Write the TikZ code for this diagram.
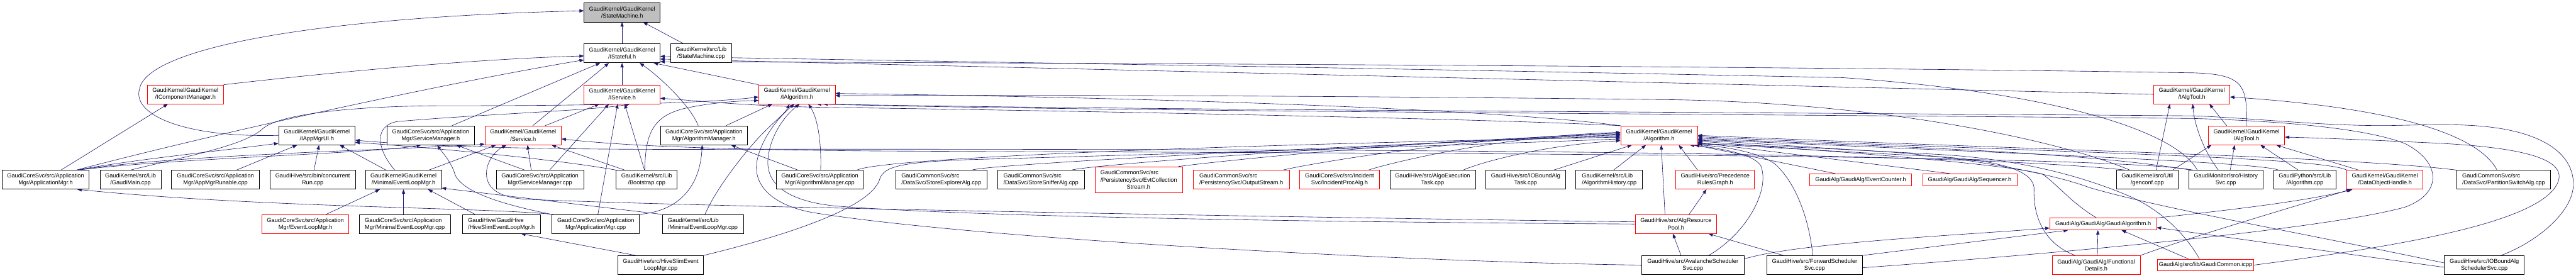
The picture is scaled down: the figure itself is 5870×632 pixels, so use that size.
\documentclass[tikz,border=0pt]{standalone}
\usepackage{fontspec}
\usetikzlibrary{arrows.meta, backgrounds}
\newfontfamily\dxfamily{Liberation Sans}
\definecolor{dxEdge}{RGB}{25,25,112}
\definecolor{dxRed}{RGB}{255,0,0}
\definecolor{dxGray}{RGB}{191,191,191}
\tikzset{
	fnode/.style={rectangle, draw=black, line width=1.1pt, fill=white, minimum height=43pt, inner xsep=3pt, inner ysep=2pt, align=center, font=\dxfamily\fontsize{13.2pt}{16pt}\selectfont},
	rnode/.style={fnode, draw=dxRed},
	lnode/.style={align=left},
	onerow/.style={minimum height=27pt},
	% include edge, arrow at the included file
	incl/.style={draw=dxEdge, line width=0.9pt, -{Triangle[length=10pt,width=7.5pt]}},
}
\begin{document}
\begin{tikzpicture}[x=1pt, y=1pt]
\useasboundingbox (0,0) rectangle (5870,632);
% rows 1-3
\node[fnode, fill=dxGray, minimum width=173pt] (sm) at (1417.5,603.5) {GaudiKernel/GaudiKernel\\/StateMachine.h};
\node[fnode, minimum width=173pt] (istateful) at (1417.5,510.5) {GaudiKernel/GaudiKernel\\/IStateful.h};
\node[fnode, minimum width=139pt] (smcpp) at (1597.5,510.5) {GaudiKernel/src/Lib\\/StateMachine.cpp};
\node[rnode, minimum width=173pt] (icompmgr) at (422.5,417) {GaudiKernel/GaudiKernel\\/IComponentManager.h};
\node[rnode, minimum width=173pt] (iservice) at (1417.5,417) {GaudiKernel/GaudiKernel\\/IService.h};
\node[rnode, minimum width=174pt] (ialg) at (1816,417) {GaudiKernel/GaudiKernel\\/IAlgorithm.h};
\node[rnode, minimum width=173pt] (ialgtool) at (4994.5,417) {GaudiKernel/GaudiKernel\\/IAlgTool.h};
% row 4
\node[fnode, minimum width=174pt] (iappmgrui) at (722,323.5) {GaudiKernel/GaudiKernel\\/IAppMgrUI.h};
\node[fnode, minimum width=199pt] (svcmgrh) at (981.5,323.5) {GaudiCoreSvc/src/Application\\Mgr/ServiceManager.h};
\node[rnode, minimum width=174pt] (serviceh) at (1192,323.5) {GaudiKernel/GaudiKernel\\/Service.h};
\node[fnode, minimum width=198pt] (algmgrh) at (1604,323.5) {GaudiCoreSvc/src/Application\\Mgr/AlgorithmManager.h};
\node[rnode, minimum width=175pt] (algh) at (3780.5,323.5) {GaudiKernel/GaudiKernel\\/Algorithm.h};
\node[rnode, minimum width=174pt] (algtoolh) at (5119,323.5) {GaudiKernel/GaudiKernel\\/AlgTool.h};
% row 5
\node[fnode, minimum width=198pt] (appmgrh) at (104,222.5) {GaudiCoreSvc/src/Application\\Mgr/ApplicationMgr.h};
\node[fnode, minimum width=139pt] (gaudimain) at (297.5,222.5) {GaudiKernel/src/Lib\\/GaudiMain.cpp};
\node[fnode, minimum width=200pt] (appmgrrun) at (491,222.5) {GaudiCoreSvc/src/Application\\Mgr/AppMgrRunable.cpp};
\node[fnode, minimum width=195pt] (concrun) at (712.5,222.5) {GaudiHive/src/bin/concurrent\\Run.cpp};
\node[fnode, minimum width=173pt] (minelmh) at (919.5,222.5) {GaudiKernel/GaudiKernel\\/MinimalEventLoopMgr.h};
\node[fnode, minimum width=199pt] (svcmgrcpp) at (1230.5,222.5) {GaudiCoreSvc/src/Application\\Mgr/ServiceManager.cpp};
\node[fnode, minimum width=139pt] (bootstrap) at (1473.5,222.5) {GaudiKernel/src/Lib\\/Bootstrap.cpp};
\node[fnode, minimum width=198pt] (algmgrcpp) at (1868,222.5) {GaudiCoreSvc/src/Application\\Mgr/AlgorithmManager.cpp};
\node[fnode, lnode, minimum width=208pt] (storeexp) at (2145,222.5) {GaudiCommonSvc/src\\/DataSvc/StoreExplorerAlg.cpp};
\node[fnode, lnode, minimum width=198pt] (storesniff) at (2372,222.5) {GaudiCommonSvc/src\\/DataSvc/StoreSnifferAlg.cpp};
\node[rnode, lnode, minimum width=200pt, minimum height=59pt] (evtcoll) at (2595,222.5) {GaudiCommonSvc/src\\/PersistencySvc/EvtCollection\\\hspace*{60pt}Stream.h};
\node[rnode, lnode, minimum width=219pt] (outstream) at (2828.5,222.5) {GaudiCommonSvc/src\\/PersistencySvc/OutputStream.h};
\node[rnode, minimum width=183pt] (incproc) at (3052.5,222.5) {GaudiCoreSvc/src/Incident\\Svc/IncidentProcAlg.h};
\node[fnode, minimum width=195pt] (algoexec) at (3264.5,222.5) {GaudiHive/src/AlgoExecution\\Task.cpp};
\node[fnode, minimum width=183pt] (ioboundtask) at (3476.5,222.5) {GaudiHive/src/IOBoundAlg\\Task.cpp};
\node[fnode, lnode, minimum width=152pt] (alghist) at (3667,222.5) {GaudiKernel/src/Lib\\/AlgorithmHistory.cpp};
\node[rnode, minimum width=179pt] (precgraph) at (3908.5,222.5) {GaudiHive/src/Precedence\\RulesGraph.h};
\node[rnode, onerow, minimum width=232pt] (evcounter) at (4240,222.5) {GaudiAlg/GaudiAlg/EventCounter.h};
\node[rnode, onerow, minimum width=215pt] (sequencer) at (4488.5,222.5) {GaudiAlg/GaudiAlg/Sequencer.h};
\node[fnode, minimum width=140pt] (genconf) at (4893,222.5) {GaudiKernel/src/Util\\/genconf.cpp};
\node[fnode, minimum width=170pt] (histsvc) at (5072,222.5) {GaudiMonitor/src/History\\Svc.cpp};
\node[fnode, minimum width=142pt] (pyalg) at (5252,222.5) {GaudiPython/src/Lib\\/Algorithm.cpp};
\node[rnode, minimum width=173pt] (dohandle) at (5434.5,222.5) {GaudiKernel/GaudiKernel\\/DataObjectHandle.h};
\node[fnode, lnode, minimum width=214pt] (partsw) at (5705,222.5) {GaudiCommonSvc/src\\/DataSvc/PartitionSwitchAlg.cpp};
% row 6
\node[rnode, minimum width=198pt] (evlmh) at (696,121.5) {GaudiCoreSvc/src/Application\\Mgr/EventLoopMgr.h};
\node[fnode, lnode, minimum width=207pt] (minelmcpp1) at (922.5,121.5) {GaudiCoreSvc/src/Application\\Mgr/MinimalEventLoopMgr.cpp};
\node[fnode, lnode, minimum width=177pt] (hiveslimh) at (1142.5,121.5) {GaudiHive/GaudiHive\\/HiveSlimEventLoopMgr.h};
\node[fnode, minimum width=199pt] (appmgrcpp) at (1357.5,121.5) {GaudiCoreSvc/src/Application\\Mgr/ApplicationMgr.cpp};
\node[fnode, lnode, minimum width=185pt] (minelmcpp2) at (1601.5,121.5) {GaudiKernel/src/Lib\\/MinimalEventLoopMgr.cpp};
\node[rnode, minimum width=186pt] (algrespool) at (3819,121.5) {GaudiHive/src/AlgResource\\Pool.h};
\node[rnode, onerow, minimum width=243pt] (gaudialgh) at (4792.5,121.5) {GaudiAlg/GaudiAlg/GaudiAlgorithm.h};
% row 7
\node[fnode, minimum width=195pt] (hiveslimcpp) at (1505.5,28) {GaudiHive/src/HiveSlimEvent\\LoopMgr.cpp};
\node[fnode, minimum width=233pt] (avalanche) at (3857.5,28) {GaudiHive/src/AvalancheScheduler\\Svc.cpp};
\node[fnode, minimum width=218pt] (forward) at (4135,28) {GaudiHive/src/ForwardScheduler\\Svc.cpp};
\node[rnode, minimum width=201pt] (funcdetails) at (4776.5,28) {GaudiAlg/GaudiAlg/Functional\\Details.h};
\node[rnode, onerow, minimum width=218pt] (gaudicommon) at (5026,28) {GaudiAlg/src/lib/GaudiCommon.icpp};
\node[fnode, minimum width=182pt] (ioboundsched) at (5661,28) {GaudiHive/src/IOBoundAlg\\SchedulerSvc.cpp};

\begin{scope}[on background layer]
\fill[white] (0,0) rectangle (5870,632);
% into StateMachine.h
\draw[incl] (istateful) -- (sm);
\draw[incl] ([xshift=-40pt]smcpp.north) -- ([xshift=48pt]sm.south);
\draw[incl] (iappmgrui.west) .. controls (420,318) and (300,370) .. (318,430) .. controls (336,520) and (700,592) .. ([yshift=4pt]sm.west);
% into IStateful.h
\draw[incl] (icompmgr.north east) .. controls (800,472) and (1100,498) .. ([yshift=-6pt]istateful.west);
\draw[incl] ([xshift=70pt]appmgrh.north) .. controls (500,330) and (1000,440) .. ([yshift=-15pt]istateful.west);
\draw[incl] ([xshift=48pt]svcmgrh.north) -- ([xshift=-50pt]istateful.south);
\draw[incl] ([xshift=22pt]serviceh.north) -- ([xshift=-30pt]istateful.south);
\draw[incl] (iservice) -- (istateful);
\draw[incl] ([xshift=-13pt]algmgrh.north) .. controls (1575,390) and (1500,460) .. ([xshift=40pt]istateful.south);
\draw[incl] (ialg.north west) -- ([xshift=72pt]istateful.south);
\draw[incl] (algtoolh.north) .. controls (5122,440) and (5110,462) .. (5000,466) .. controls (4000,482) and (2500,488) .. ([yshift=3pt]istateful.south east);
\draw[incl] (ialgtool.west) -- ([yshift=9pt]istateful.south east);
\draw[incl] ([xshift=-65pt]histsvc.north) .. controls (4960,330) and (4700,420) .. (4200,455) .. controls (3000,480) and (2000,494) .. ([yshift=15pt]istateful.south east);
% into IComponentManager.h and IAppMgrUI.h
\draw[incl] ([xshift=35pt]appmgrh.north) -- ([xshift=-40pt]icompmgr.south);
\draw[incl] ([xshift=72pt]appmgrh.north) .. controls (300,268) and (500,288) .. ([yshift=-18pt]iappmgrui.west);
\draw[incl] ([xshift=48pt]appmgrrun.north) -- ([xshift=-45pt]iappmgrui.south);
\draw[incl] ([xshift=3pt]concrun.north) -- ([xshift=5pt]iappmgrui.south);
\draw[incl] ([xshift=-40pt]minelmh.north) -- ([xshift=52pt]iappmgrui.south);
\draw[incl] (bootstrap.north west) .. controls (1250,272) and (950,298) .. ([yshift=-16pt]iappmgrui.east);
\draw[incl] ([xshift=-50pt]genconf.north) .. controls (4400,292) and (2800,292) .. (1700,292) .. controls (1300,290) and (1000,296) .. ([yshift=-11pt]iappmgrui.east);
% into IService.h
\draw[incl] ([xshift=50pt]serviceh.north) -- ([xshift=-52pt]iservice.south);
\draw[incl] ([xshift=22pt]svcmgrcpp.north) -- ([xshift=-30pt]iservice.south);
\draw[incl] ([xshift=5pt]appmgrcpp.north) -- ([xshift=-10pt]iservice.south);
\draw[incl] ([xshift=-5pt]bootstrap.north) -- ([xshift=6pt]iservice.south);
\draw[incl] ([xshift=-20pt]minelmh.north) .. controls (860,290) and (850,345) .. (905,355) .. controls (1100,372) and (1350,380) .. ([xshift=18pt]iservice.south);
\draw[incl] (algh.north west) .. controls (3400,362) and (2300,382) .. (1900,387) .. controls (1700,390) and (1600,402) .. ([yshift=-9pt]iservice.east);
% into IAlgorithm.h
\draw[incl] (gaudimain.north) .. controls (420,275) and (560,300) .. (600,340) .. controls (640,372) and (800,390) .. (1000,391) .. controls (1400,391) and (1620,398) .. ([yshift=-6pt]ialg.west);
\draw[incl] ([xshift=-4pt]bootstrap.north) .. controls (1470,330) and (1490,368) .. (1560,385) .. controls (1620,398) and (1680,402) .. ([yshift=-14pt]ialg.west);
\draw[incl] ([xshift=50pt]algmgrh.north) -- ([xshift=-56pt]ialg.south);
\draw[incl] ([xshift=5pt]minelmcpp2.north) .. controls (1630,200) and (1700,290) .. (1740,330) .. controls (1770,360) and (1790,375) .. ([xshift=-17pt]ialg.south);
\draw[incl] (avalanche.west) .. controls (3200,35) and (2200,90) .. (1850,148) .. controls (1760,165) and (1715,210) .. (1725,265) .. controls (1735,320) and (1780,370) .. ([xshift=-6pt]ialg.south);
\draw[incl] (algrespool.west) .. controls (3000,126) and (2200,138) .. (1900,163) .. controls (1790,175) and (1745,215) .. (1750,270) .. controls (1755,325) and (1790,370) .. ([xshift=6pt]ialg.south);
\draw[incl] ([xshift=2pt]algmgrcpp.north) .. controls (1872,300) and (1865,360) .. ([xshift=26pt]ialg.south);
\draw[incl] (algh.north west) .. controls (3400,385) and (2600,410) .. ([yshift=2pt]ialg.east);
\draw[incl] ([xshift=-40pt]genconf.north) .. controls (4700,310) and (4300,398) .. (3800,405) .. controls (3000,414) and (2400,416) .. ([yshift=-3pt]ialg.east);
\draw[incl] ([xshift=38pt]ioboundsched.north) .. controls (5780,80) and (5866,150) .. (5864,215) .. controls (5862,280) and (5800,318) .. (5720,335) .. controls (5640,352) and (5550,348) .. (5450,346) .. controls (5300,344) and (5150,362) .. (5000,368) .. controls (4000,376) and (2500,382) .. ([xshift=60pt]ialg.south);
\draw[incl] ([yshift=-6pt]forward.east) .. controls (4700,55) and (5300,110) .. (5480,160) .. controls (5565,190) and (5565,262) .. (5480,305) .. controls (5390,340) and (5200,356) .. (5000,362) .. controls (4000,372) and (2500,378) .. ([xshift=45pt]ialg.south);
% into Service.h
\draw[incl] ([xshift=74pt]appmgrh.north) .. controls (400,280) and (900,290) .. ([yshift=-20pt]serviceh.west);
\draw[incl] ([xshift=58pt]minelmh.north) -- ([xshift=-62pt]serviceh.south);
\draw[incl] ([yshift=5pt]algrespool.west) .. controls (3000,136) and (1600,160) .. (1200,178) .. controls (1125,182) and (1102,212) .. (1110,250) .. controls (1116,275) and (1135,292) .. ([xshift=-38pt]serviceh.south);
\draw[incl] ([xshift=-20pt]svcmgrcpp.north) -- ([xshift=10pt]serviceh.south);
\draw[incl] ([xshift=-50pt]bootstrap.north) -- ([xshift=65pt]serviceh.south);
\draw[incl] ([xshift=-75pt]histsvc.north) .. controls (4800,282) and (3000,283) .. (2000,288) .. controls (1600,291) and (1400,302) .. ([yshift=-8pt]serviceh.east);
% into ServiceManager.h, AlgorithmManager.h
\draw[incl] ([xshift=74pt]appmgrh.north) .. controls (400,272) and (850,282) .. ([xshift=-22pt]svcmgrh.south);
\draw[incl] ([xshift=-100pt]appmgrcpp.north) .. controls (1150,165) and (1045,195) .. (1035,240) .. controls (1025,268) and (1005,288) .. ([xshift=15pt]svcmgrh.south);
\draw[incl] ([xshift=-35pt]svcmgrcpp.north) -- ([xshift=58pt]svcmgrh.south);
\draw[incl] ([xshift=98pt]appmgrcpp.north) .. controls (1545,150) and (1595,205) .. ([xshift=-4pt]algmgrh.south);
\draw[incl] ([xshift=-50pt]algmgrcpp.north) -- ([xshift=62pt]algmgrh.south);
% into MinimalEventLoopMgr.h, ApplicationMgr.h, HiveSlimEventLoopMgr.h
\draw[incl] ([xshift=47pt]evlmh.north) -- ([xshift=-54pt]minelmh.south);
\draw[incl] ([xshift=-3pt]minelmcpp1.north) -- (minelmh.south);
\draw[incl] ([xshift=-60pt]hiveslimh.north) -- ([xshift=56pt]minelmh.south);
\draw[incl] (minelmcpp2.north west) -- ([yshift=3pt]minelmh.south east);
\draw[incl] ([xshift=-98pt]appmgrcpp.north) .. controls (1100,160) and (600,158) .. ([xshift=72pt]appmgrh.south);
\draw[incl] ([xshift=-57pt]hiveslimcpp.north) -- ([xshift=45pt]hiveslimh.south);
% into Algorithm.h from the left
\draw[incl] ([xshift=85pt]algmgrcpp.north) .. controls (2000,268) and (2600,298) .. ([yshift=-4pt]algh.west);
\draw[incl] (hiveslimcpp.north east) .. controls (1850,110) and (1990,170) .. (2005,225) .. controls (2015,252) and (2050,262) .. (2200,268) .. controls (2800,285) and (3300,300) .. ([yshift=-8pt]algh.west);
\draw[incl] ([xshift=70pt]storeexp.north) .. controls +(30,12) and +(-700,-25) .. ([yshift=-1pt]algh.west);
\draw[incl] ([xshift=70pt]storesniff.north) .. controls +(30,10) and +(-600,-20) .. ([yshift=1pt]algh.west);
\draw[incl] ([xshift=90pt]evtcoll.north) .. controls +(40,6) and +(-500,-15) .. ([yshift=3pt]algh.west);
\draw[incl] ([xshift=95pt]outstream.north) .. controls +(30,8) and +(-400,-12) .. ([yshift=5pt]algh.west);
\draw[incl] ([xshift=66pt]incproc.north) .. controls +(20,8) and +(-300,-10) .. ([yshift=7pt]algh.west);
\draw[incl] ([xshift=70pt]algoexec.north) .. controls +(20,10) and +(-200,-12) .. ([yshift=-12pt]algh.west);
\draw[incl] ([xshift=64pt]ioboundtask.north) -- ([xshift=-62pt]algh.south);
\draw[incl] ([xshift=10pt]alghist.north) -- ([xshift=-30pt]algh.south);
\draw[incl] ([xshift=-40pt]precgraph.north) -- ([xshift=45pt]algh.south);
\draw[incl] ([xshift=-25pt]algrespool.north) -- ([xshift=5pt]algh.south);
% into Algorithm.h from the right
\draw[incl] ([xshift=36pt]avalanche.north) .. controls (3980,100) and (4035,200) .. (4012,255) .. controls (3995,282) and (3910,296) .. ([xshift=70pt]algh.south);
\draw[incl] ([xshift=-4pt]forward.north) .. controls (4120,150) and (4085,222) .. (4045,258) .. controls (4010,285) and (3925,300) .. ([xshift=80pt]algh.south);
\draw[incl] ([xshift=-58pt]evcounter.north) -- ([xshift=82pt]algh.south);
\draw[incl] ([xshift=-45pt]sequencer.north) -- ([yshift=-16pt]algh.east);
\draw[incl] ([xshift=-15pt]gaudialgh.north) .. controls (4720,170) and (4695,205) .. (4655,235) .. controls (4560,262) and (4100,292) .. ([yshift=-13pt]algh.east);
\draw[incl] ([xshift=-48pt]funcdetails.north) .. controls (4650,80) and (4633,150) .. (4635,200) .. controls (4637,245) and (4550,268) .. (4400,276) .. controls (4200,286) and (4000,298) .. ([yshift=-18pt]algh.east);
\draw[incl] ([xshift=-14pt]gaudicommon.north) .. controls (4985,90) and (4930,152) .. (4850,186) .. controls (4760,224) and (4620,268) .. (4420,280) .. controls (4200,292) and (4000,302) .. ([yshift=-20pt]algh.east);
\draw[incl] ([xshift=-80pt]histsvc.north) .. controls (4700,292) and (4200,300) .. ([yshift=-6pt]algh.east);
\draw[incl] ([xshift=-60pt]pyalg.north) .. controls (5150,262) and (4600,282) .. ([yshift=-9pt]algh.east);
\draw[incl] (dohandle.north west) .. controls (5290,275) and (4650,285) .. ([yshift=-3pt]algh.east);
\draw[incl] (partsw.north west) .. controls (5350,275) and (4650,290) .. (algh.east);
\draw[incl] ([yshift=5pt]ioboundsched.west) .. controls (5200,110) and (4920,158) .. (4760,205) .. controls (4690,232) and (4500,272) .. (4300,286) .. controls (4100,298) and (3960,308) .. ([yshift=-11pt]algh.east);
% into AlgResourcePool.h, PrecedenceRulesGraph.h
\draw[incl] ([xshift=30pt]algrespool.north) -- ([xshift=-20pt]precgraph.south);
\draw[incl] ([xshift=-27pt]avalanche.north) -- ([xshift=-7pt]algrespool.south);
\draw[incl] ([xshift=-71pt]forward.north) -- ([xshift=74pt]algrespool.south);
% into IAlgTool.h, AlgTool.h
\draw[incl] ([xshift=20pt]genconf.north) -- ([xshift=-50pt]ialgtool.south);
\draw[incl] ([xshift=-17pt]histsvc.north) .. controls (5020,290) and (5000,350) .. ([xshift=2pt]ialgtool.south);
\draw[incl] ([xshift=-45pt]algtoolh.north) -- ([xshift=40pt]ialgtool.south);
\draw[incl] ([xshift=-15pt]partsw.north) .. controls (5650,320) and (5480,385) .. ([yshift=-6pt]ialgtool.east);
\draw[incl] ([xshift=58pt]genconf.north) -- ([xshift=-80pt]algtoolh.south);
\draw[incl] ([xshift=10pt]histsvc.north) -- ([xshift=-27pt]algtoolh.south);
\draw[incl] ([xshift=-15pt]pyalg.north) -- ([xshift=32pt]algtoolh.south);
\draw[incl] ([xshift=-60pt]dohandle.north) -- ([xshift=68pt]algtoolh.south);
\draw[incl] (gaudicommon.east) .. controls (5500,75) and (5800,130) .. (5830,220) .. controls (5845,270) and (5750,296) .. (5550,306) .. controls (5400,313) and (5280,318) .. ([yshift=-4pt]algtoolh.east);
% into DataObjectHandle.h, GaudiAlgorithm.h
\draw[incl] (gaudialgh.north east) .. controls (5050,150) and (5250,172) .. ([xshift=-74pt]dohandle.south);
\draw[incl] (funcdetails.north east) .. controls (5000,95) and (5250,168) .. ([xshift=-78pt]dohandle.south);
\draw[incl] ([yshift=14pt]avalanche.east) .. controls (4100,80) and (4500,98) .. ([yshift=-9pt]gaudialgh.west);
\draw[incl] (forward.north east) -- ([xshift=-80pt]gaudialgh.south);
\draw[incl] ([xshift=3pt]funcdetails.north) -- ([xshift=-12pt]gaudialgh.south);
\draw[incl] ([xshift=-39pt]gaudicommon.north) -- ([xshift=42pt]gaudialgh.south);
\draw[incl] ([yshift=-5pt]ioboundsched.west) -- ([yshift=-8pt]gaudialgh.east);
\end{scope}
\end{tikzpicture}
\end{document}
